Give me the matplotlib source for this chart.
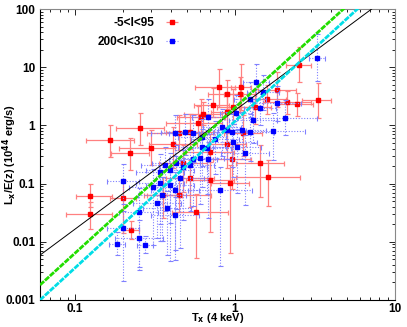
import numpy as np
import matplotlib
matplotlib.use("Agg")
import matplotlib.pyplot as plt

plt.rcParams['font.family'] = ['Liberation Sans', 'DejaVu Sans']

# ---- data: red sample (-5<l<95) ----
red_T = [0.124, 0.124, 0.20, 0.224, 0.447, 0.57, 0.794, 0.89, 1.09, 0.97, 0.73, 0.63, 0.61, 0.89,
         1.07, 1.33, 1.83, 2.11, 1.58, 2.44, 0.59, 0.52, 0.447, 0.30, 0.41, 0.89, 1.12, 0.70,
         1.43, 0.96, 0.47, 0.52, 0.70, 0.93, 0.355, 1.61, 0.166, 0.22, 0.255, 2.5, 3.3]
red_L = [0.062, 0.030, 0.057, 0.016, 0.064, 0.033, 4.6, 3.4, 4.6, 2.1, 2.2, 1.6, 1.41, 1.72,
         3.4, 2.1, 4.1, 2.5, 2.8, 2.3, 1.1, 0.78, 0.75, 0.41, 0.47, 0.47, 0.75, 0.35,
         0.23, 0.26, 0.23, 0.126, 0.116, 0.103, 0.064, 0.13, 0.57, 0.34, 0.91, 11.0, 2.7]
# errors in dex
red_dx_lo = [0.09, 0.15, 0.08, 0.05, 0.2, 0.15, 0.15, 0.12, 0.06, 0.1, 0.12, 0.12, 0.15, 0.1,
             0.1, 0.1, 0.12, 0.15, 0.12, 0.12, 0.2, 0.15, 0.2, 0.2, 0.15, 0.12, 0.12, 0.15,
             0.15, 0.12, 0.15, 0.15, 0.15, 0.12, 0.12, 0.2, 0.15, 0.12, 0.15, 0.08, 0.1]
red_dx_hi = [0.14, 0.14, 0.08, 0.05, 0.2, 0.2, 0.10, 0.10, 0.06, 0.1, 0.10, 0.12, 0.15, 0.1,
             0.1, 0.1, 0.12, 0.15, 0.12, 0.10, 0.15, 0.15, 0.15, 0.15, 0.15, 0.12, 0.12, 0.15,
             0.15, 0.12, 0.15, 0.15, 0.15, 0.12, 0.12, 0.2, 0.15, 0.12, 0.15, 0.08, 0.08]
red_dy_lo = [0.2, 0.25, 0.6, 0.15, 0.3, 0.8, 0.35, 0.25, 0.4, 0.3, 0.2, 0.2, 0.3, 0.3,
             0.3, 0.3, 0.3, 0.2, 0.25, 0.2, 0.3, 0.3, 0.3, 0.3, 0.4, 0.4, 0.4, 0.5,
             0.6, 0.5, 0.5, 0.5, 0.9, 1.2, 0.4, 0.5, 0.3, 0.3, 0.3, 0.3, 0.3]
red_dy_hi = [0.2, 0.2, 0.3, 0.15, 0.3, 0.3, 0.3, 0.25, 0.4, 0.3, 0.3, 0.2, 0.3, 0.3,
             0.3, 0.3, 0.3, 0.2, 0.25, 0.2, 0.3, 0.3, 0.3, 0.3, 0.3, 0.3, 0.3, 0.3,
             0.3, 0.3, 0.3, 0.3, 0.3, 0.3, 0.3, 0.3, 0.25, 0.25, 0.25, 0.3, 0.3]

# ---- data: blue sample (200<l<310) ----
blue_T = [1.35, 1.50, 1.24, 1.83, 1.43, 2.05, 1.30, 0.68, 1.01, 0.83, 0.89, 0.96, 1.11, 0.42,
          0.49, 0.55, 0.62, 0.75, 0.97, 1.73, 1.24, 0.62, 0.67, 1.03, 1.15, 0.365, 0.60, 0.68,
          0.55, 0.43, 0.47, 0.52, 0.39, 0.45, 0.34, 0.34, 0.39, 0.42, 0.81, 0.307, 0.20, 0.25,
          0.20, 0.25, 0.274, 0.183, 0.325, 0.35, 0.376, 0.42, 3.25]
blue_L = [5.6, 3.7, 2.8, 2.4, 2.0, 1.36, 1.25, 1.41, 1.65, 0.95, 0.84, 0.78, 0.84, 0.75,
          0.78, 0.75, 0.64, 0.59, 0.52, 0.81, 0.78, 0.43, 0.41, 0.43, 0.34, 0.21, 0.28, 0.26,
          0.26, 0.23, 0.19, 0.21, 0.17, 0.126, 0.16, 0.103, 0.095, 0.078, 0.078, 0.088, 0.11, 0.033,
          0.017, 0.0117, 0.0089, 0.0093, 0.047, 0.064, 0.038, 0.029, 14.6]
blue_dx_lo = [0.08, 0.1, 0.1, 0.15, 0.1, 0.3, 0.15, 0.1, 0.1, 0.12, 0.12, 0.12, 0.15, 0.15,
              0.15, 0.15, 0.15, 0.15, 0.15, 0.2, 0.15, 0.15, 0.15, 0.15, 0.15, 0.15, 0.15, 0.15,
              0.15, 0.15, 0.15, 0.15, 0.15, 0.15, 0.15, 0.15, 0.15, 0.15, 0.2, 0.15, 0.1, 0.12,
              0.1, 0.15, 0.05, 0.05, 0.15, 0.15, 0.15, 0.15, 0.05]
blue_dx_hi = [0.08, 0.1, 0.1, 0.15, 0.1, 0.2, 0.15, 0.1, 0.1, 0.12, 0.12, 0.12, 0.15, 0.15,
              0.15, 0.15, 0.15, 0.15, 0.15, 0.2, 0.15, 0.15, 0.15, 0.15, 0.15, 0.15, 0.15, 0.15,
              0.15, 0.15, 0.15, 0.15, 0.15, 0.15, 0.15, 0.15, 0.15, 0.15, 0.2, 0.15, 0.1, 0.12,
              0.1, 0.15, 0.05, 0.05, 0.15, 0.15, 0.15, 0.15, 0.05]
blue_dy_lo = [0.3, 0.3, 0.3, 0.3, 0.3, 0.3, 0.4, 0.3, 0.3, 0.5, 0.5, 0.6, 0.5, 0.4,
              0.4, 0.5, 0.5, 0.6, 0.6, 0.5, 0.5, 0.7, 0.8, 0.8, 0.9, 0.8, 0.8, 1.0,
              0.8, 0.8, 0.9, 0.8, 0.9, 1.2, 0.9, 1.0, 1.3, 1.2, 1.3, 1.0, 0.4, 1.0,
              0.9, 0.5, 0.15, 0.2, 0.6, 0.8, 0.8, 0.6, 0.4]
blue_dy_hi = [0.3, 0.3, 0.3, 0.3, 0.3, 0.3, 0.3, 0.3, 0.3, 0.3, 0.3, 0.3, 0.3, 0.3,
              0.3, 0.3, 0.3, 0.3, 0.3, 0.3, 0.3, 0.3, 0.3, 0.3, 0.3, 0.3, 0.3, 0.3,
              0.3, 0.3, 0.3, 0.3, 0.3, 0.3, 0.3, 0.3, 0.3, 0.3, 0.4, 0.3, 0.3, 0.4,
              0.3, 0.3, 0.15, 0.2, 0.3, 0.3, 0.3, 0.3, 0.4]

# ---- fitted relations L = A * T^B ----
fit_black = (1.81, 2.04)
fit_green = (2.02, 2.50)
fit_cyan = (1.18, 2.52)

labels = ['-5<l<95', '200<l<310']


def err_arrays(v, lo, hi):
    v = np.asarray(v)
    lo = np.asarray(lo)
    hi = np.asarray(hi)
    return np.vstack([v - v / 10 ** lo, v * 10 ** hi - v])


fig = plt.figure(figsize=(4.07, 3.27), dpi=100)
ax = fig.add_axes([40 / 407, 27 / 327, 355 / 407, 291 / 327])
ax.set_xscale('log')
ax.set_yscale('log')
ax.set_xlim(0.0604, 10)
ax.set_ylim(0.001, 100)

Tline = np.logspace(np.log10(0.0604), 1, 200)
ax.plot(Tline, fit_black[0] * Tline ** fit_black[1], color='black', lw=0.7, zorder=5)
ax.plot(Tline, fit_green[0] * Tline ** fit_green[1], color='#22dd00', lw=2.0,
        linestyle=(0, (2.0, 0.4)), zorder=5)
ax.plot(Tline, fit_cyan[0] * Tline ** fit_cyan[1], color='#00dde6', lw=2.0,
        linestyle=(0, (2.0, 0.4)), zorder=5)

ered = ax.errorbar(red_T, red_L, xerr=err_arrays(red_T, red_dx_lo, red_dx_hi),
                   yerr=err_arrays(red_L, red_dy_lo, red_dy_hi), fmt='s', color='#ff0000',
                   ms=2.6, ecolor='#ff8080', elinewidth=0.9, capsize=1.8, capthick=0.9, zorder=3)
eblue = ax.errorbar(blue_T, blue_L, xerr=err_arrays(blue_T, blue_dx_lo, blue_dx_hi),
                    yerr=err_arrays(blue_L, blue_dy_lo, blue_dy_hi), fmt='s', color='#0000ff',
                    ms=2.6, ecolor='#8080ff', elinewidth=0.8, capsize=1.8, capthick=0.8, zorder=4)
for c in eblue[2]:
    c.set_linestyle((0, (1, 1.5)))

# legend proxies (horizontal error bar only)
hr = ax.errorbar([], [], xerr=[], fmt='s', color='#ff0000', ms=2.6, ecolor='#ff8080',
                 elinewidth=0.9, capsize=1.8)
hb = ax.errorbar([], [], xerr=[], fmt='s', color='#0000ff', ms=2.6, ecolor='#8080ff',
                 elinewidth=0.8, capsize=1.8)
for c in hb[2]:
    c.set_linestyle((0, (1, 1.5)))
leg = ax.legend([hr, hb], labels, loc='upper left', bbox_to_anchor=(0.14, 1.0),
                frameon=False, markerfirst=False, handlelength=2.0, handletextpad=0.5,
                labelspacing=0.55, borderaxespad=0.3, prop={'weight': 'bold', 'size': 8.5})

ax.tick_params(which='both', direction='in', top=True, right=True, labelsize=8.5)
ax.tick_params(which='major', length=4, width=0.6)
ax.tick_params(which='minor', length=2, width=0.6)
ax.tick_params(axis='x', pad=2)
for lab in ax.get_xticklabels() + ax.get_yticklabels():
    lab.set_fontweight('bold')
ax.xaxis.set_major_formatter(matplotlib.ticker.FuncFormatter(lambda v, p: '%g' % v))
ax.yaxis.set_major_formatter(matplotlib.ticker.FuncFormatter(lambda v, p: '%g' % v))
for s in ['top', 'right']:
    ax.spines[s].set_color('#888888')
ax.set_xlabel(r'T$_\mathbf{x}$ (4 keV)', fontsize=8, fontweight='bold', va='center')
ax.xaxis.set_label_coords(0.5, -0.063)
ax.set_ylabel(r'L$_\mathbf{x}$/E(z) (10$^\mathbf{44}$ erg/s)', fontsize=8, fontweight='bold', va='center')
ax.yaxis.set_label_coords(-0.085, 0.5)

fig.savefig('out.png', dpi=100)
